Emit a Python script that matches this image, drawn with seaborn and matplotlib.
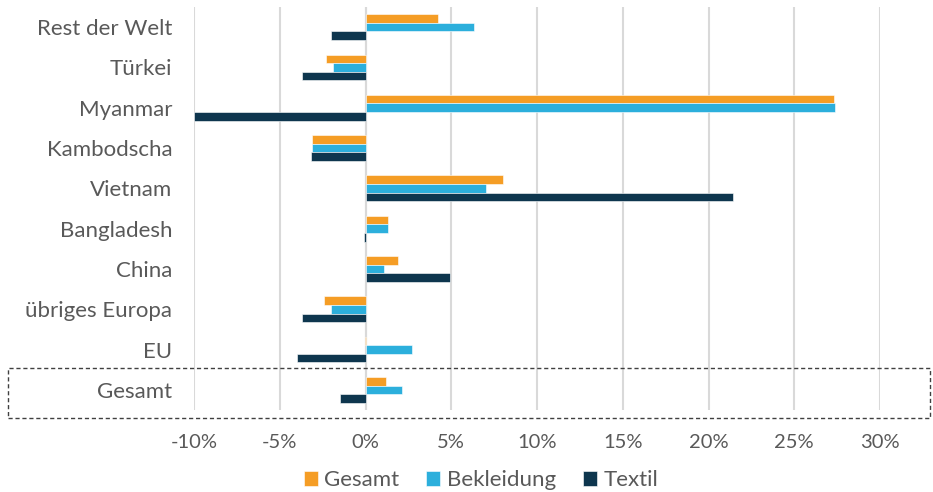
import matplotlib
matplotlib.use("Agg")
import matplotlib.pyplot as plt
from matplotlib.patches import Rectangle
from matplotlib.ticker import FuncFormatter
import seaborn as sns
import pandas as pd

# Veränderung der Importe nach Herkunft (in %)
laender = ["Rest der Welt", "Türkei", "Myanmar", "Kambodscha", "Vietnam",
           "Bangladesh", "China", "übriges Europa", "EU", "Gesamt"]
gesamt = [4.2, -2.3, 27.3, -3.1, 8.0, 1.3, 1.9, -2.4, -0.05, 1.2]
bekleidung = [6.3, -1.9, 27.4, -3.1, 7.0, 1.3, 1.1, -2.0, 2.7, 2.1]
textil = [-2.0, -3.7, -10.0, -3.2, 21.4, -0.1, 4.9, -3.7, -4.0, -1.5]
serien = ["Gesamt", "Bekleidung", "Textil"]
farben = ["#F59D25", "#2CAFDC", "#0E364E"]
xticks = [-10, -5, 0, 5, 10, 15, 20, 25, 30]

df = pd.DataFrame({"Land": laender, "Gesamt": gesamt,
                   "Bekleidung": bekleidung, "Textil": textil})
long = df.melt(id_vars="Land", var_name="Serie", value_name="Wert")

sns.set_theme(style="white")
plt.rcParams["font.family"] = ["Lato", "DejaVu Sans"]
grau = "#595959"

W, H = 933, 492
fig = plt.figure(figsize=(W / 100, H / 100), dpi=100)
ax = fig.add_axes([194 / W, 1 - 410 / H, (880 - 194) / W, (410 - 7) / H])

sns.barplot(data=long, y="Land", x="Wert", hue="Serie", order=laender,
            hue_order=serien, palette=farben, saturation=1, orient="h",
            width=0.64, edgecolor="white", linewidth=0.4, ax=ax, legend=True)

ax.set_xlim(-10, 30)
ax.set_ylim(len(laender) - 0.5, -0.5)
ax.set_xticks(xticks)
ax.xaxis.set_major_formatter(FuncFormatter(lambda v, p: f"{v:.0f}%"))
ax.grid(axis="x", color="#D9D9D9", linewidth=1.5)
ax.grid(axis="y", visible=False)
ax.set_axisbelow(True)
ax.axvline(0, color="#D9D9D9", linewidth=1.5, zorder=0)
for s in ax.spines.values():
    s.set_visible(False)
ax.set_xlabel("")
ax.set_ylabel("")
ax.tick_params(axis="x", length=0, pad=17.5, labelsize=14.5, labelcolor=grau)
ax.tick_params(axis="y", length=0, pad=15.5, labelsize=16, labelcolor=grau)

# Hervorhebung der Zeile "Gesamt"
fig.patches.append(Rectangle((8 / W, 1 - 418 / H), (930 - 8) / W, 50 / H,
                             transform=fig.transFigure, fill=False,
                             edgecolor="#404040", linestyle=(0, (3, 2)),
                             linewidth=1.0))

handles, labels = ax.get_legend_handles_labels()
ax.get_legend().remove()
fig.legend(handles, labels, loc="center", bbox_to_anchor=(481 / W, 1 - 480 / H),
           ncol=3, frameon=False, fontsize=16, labelcolor=grau,
           handlelength=0.64, handleheight=0.64, handletextpad=0.3,
           columnspacing=1.2, borderpad=0)

fig.savefig("out.png", dpi=100)
